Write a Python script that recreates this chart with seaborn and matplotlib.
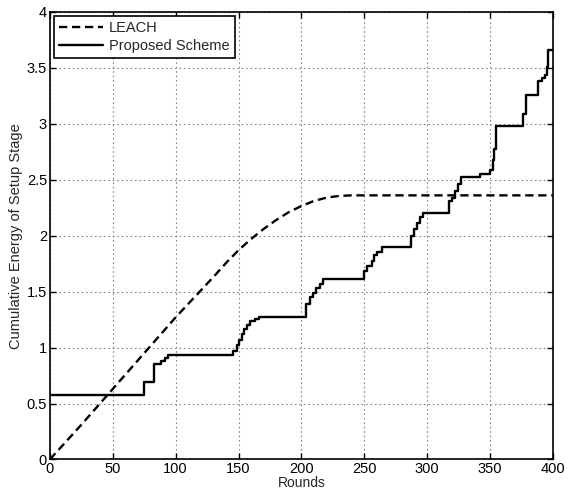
import matplotlib
matplotlib.use('Agg')
import matplotlib.pyplot as plt
import seaborn as sns
import pandas as pd
from matplotlib.ticker import FuncFormatter

# LEACH curve
leach_rounds = [0, 25, 50, 75, 100, 115, 130, 140, 150, 160, 170, 180, 190, 200, 210, 220, 230, 240, 400]
leach_energy = [0, 0.31, 0.63, 0.95, 1.27, 1.45, 1.63, 1.755, 1.87, 1.97, 2.06, 2.14, 2.21, 2.265,
                2.31, 2.34, 2.355, 2.36, 2.36]

# Proposed scheme step points (round where the value changes)
prop_rounds = [0, 75, 83, 88, 91.5, 94, 146, 148.5, 150.5, 153, 154.5, 156.5, 159, 163, 166,
               204, 207, 209.5, 212, 215, 217.5, 249.5, 252, 256, 258, 260, 264,
               287, 289.5, 292, 294.5, 296.5, 317.5, 320, 322, 324.5, 327, 342,
               350, 352, 353.5, 355, 376.5, 378.5, 388, 391, 394, 395, 396, 400]
prop_energy = [0.58, 0.69, 0.85, 0.88, 0.91, 0.935, 0.97, 1.02, 1.07, 1.12, 1.17, 1.2, 1.24, 1.255, 1.275,
               1.39, 1.45, 1.49, 1.53, 1.57, 1.61, 1.68, 1.73, 1.77, 1.83, 1.85, 1.90,
               2.0, 2.06, 2.11, 2.17, 2.2, 2.31, 2.34, 2.40, 2.46, 2.52, 2.55,
               2.59, 2.68, 2.77, 2.98, 3.09, 3.26, 3.38, 3.41, 3.44, 3.51, 3.66, 3.66]

sns.set_style('ticks')
plt.rcParams['font.family'] = ['Liberation Sans', 'DejaVu Sans']

fig = plt.figure(figsize=(5.73, 4.93), dpi=100)
ax = fig.add_axes([0.087, 0.068, 0.878, 0.908])

df_leach = pd.DataFrame({'Rounds': leach_rounds, 'Energy': leach_energy})
df_prop = pd.DataFrame({'Rounds': prop_rounds, 'Energy': prop_energy})

sns.lineplot(data=df_leach, x='Rounds', y='Energy', ax=ax, color='black',
             linewidth=1.7, linestyle=(0, (3.5, 2)), label='LEACH', estimator=None)
sns.lineplot(data=df_prop, x='Rounds', y='Energy', ax=ax, color='black',
             linewidth=1.7, drawstyle='steps-post', label='Proposed Scheme', estimator=None)

ax.set_xlim(0, 400)
ax.set_ylim(0, 4)
ax.set_xticks(range(0, 401, 50))
ax.set_yticks([0, 0.5, 1, 1.5, 2, 2.5, 3, 3.5, 4])
ax.yaxis.set_major_formatter(FuncFormatter(lambda v, p: '%g' % v))
ax.grid(True, linestyle=(0, (1.5, 2.5)), color='#888888', linewidth=0.8)
ax.tick_params(direction='in', top=True, right=True, labelsize=10.5, length=4, width=1,
               colors='black', pad=2)
for s in ax.spines.values():
    s.set_visible(True)
    s.set_linewidth(1.2)
    s.set_color('black')

ax.set_xlabel('Rounds', fontsize=10, labelpad=0)
ax.set_ylabel('Cumulative Energy of Setup Stage', fontsize=10.5, labelpad=3)

leg = ax.legend(loc='upper left', fontsize=10.5, frameon=True, fancybox=False,
                handlelength=3.0, borderpad=0.35, labelspacing=0.25, handletextpad=0.4,
                borderaxespad=0.3)
leg.get_frame().set_edgecolor('black')
leg.get_frame().set_linewidth(1.2)
leg.get_frame().set_alpha(1)

fig.savefig('out.png', dpi=100)
